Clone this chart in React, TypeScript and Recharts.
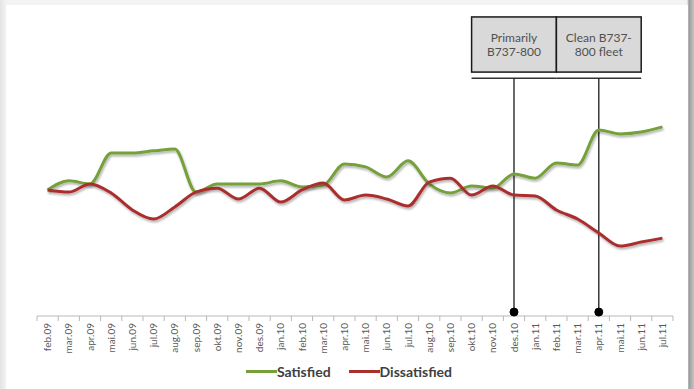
import React from 'react';
import {
  LineChart,
  Line,
  XAxis,
  YAxis,
  Legend,
  ReferenceArea,
  ReferenceLine,
  ReferenceDot,
} from 'recharts';

const months = [
  'feb.09', 'mar.09', 'apr.09', 'mai.09', 'jun.09', 'jul.09', 'aug.09', 'sep.09', 'okt.09', 'nov.09',
  'des.09', 'jan.10', 'feb.10', 'mar.10', 'apr.10', 'mai.10', 'jun.10', 'jul.10', 'aug.10', 'sep.10',
  'okt.10', 'nov.10', 'des.10', 'jan.11', 'feb.11', 'mar.11', 'apr.11', 'mai.11', 'jun.11', 'jul.11',
];

const satisfied = [
  41.6, 44.6, 43.6, 53.8, 53.8, 54.5, 55.1, 40.9, 43.6, 43.6,
  43.6, 44.6, 42.6, 43.2, 50.2, 49.2, 45.9, 51.2, 43.6, 40.6,
  42.9, 42.2, 46.9, 45.5, 50.5, 49.8, 61.4, 60.1, 60.7, 62.4,
];

const dissatisfied = [
  41.6, 40.9, 43.6, 40.6, 35.0, 32.0, 36.0, 40.9, 42.2, 38.6,
  42.2, 37.6, 41.6, 43.9, 38.3, 39.9, 38.6, 36.3, 44.2, 45.5,
  39.9, 42.9, 39.9, 39.6, 35.0, 32.0, 27.4, 23.1, 24.4, 25.7,
];

// fleet milestones: [box start, box end, marker month, caption lines]
const milestones: [string, string, string, string[]][] = [
  ['okt.10', 'feb.11', 'des.10', ['Primarily', 'B737-800']],
  ['feb.11', 'jun.11', 'apr.11', ['Clean B737-', '800 fleet']],
];

const GREEN = '#76a03a';
const RED = '#aa2f2f';

const W = 694;
const H = 389;
const margin = { top: 13, right: 21, left: 37, bottom: 8 };
const band = (W - margin.left - margin.right) / months.length;

const data = months.map((m, i) => ({
  month: m,
  satisfied: satisfied[i],
  dissatisfied: dissatisfied[i],
}));

// Excel-style ticks sit between the categories
const MonthTick = (props: any) => {
  const { x, y, payload, index } = props;
  return (
    <g>
      <line x1={x - band / 2} y1={y} x2={x - band / 2} y2={y + 5} stroke="#b8b8b8" />
      {index === months.length - 1 && (
        <line x1={x + band / 2} y1={y} x2={x + band / 2} y2={y + 5} stroke="#b8b8b8" />
      )}
      <text
        x={x}
        y={y + 7}
        dy="0.35em"
        transform={`rotate(-90 ${x} ${y + 7})`}
        textAnchor="end"
        fontSize={10}
        fontFamily="Lato"
        fill="#595959"
      >
        {payload.value}
      </text>
    </g>
  );
};

// area spans whole bands; pull the box in to the category centres
const CenteredBox = (props: any) => {
  const { x, y, width, height } = props;
  return (
    <rect
      x={x + band / 2}
      y={y}
      width={width - band}
      height={height}
      fill="#d9d9d9"
      stroke="#1a1a1a"
      strokeWidth={1.5}
    />
  );
};

const boxCaption = (lines: string[]) => (props: any) => {
  const { x, y, width, height } = props.viewBox;
  const cx = x + width / 2;
  const cy = y + height / 2;
  return (
    <text textAnchor="middle" fontSize={12} fontFamily="Lato" fill="#505050">
      {lines.map((l, i) => (
        <tspan key={i} x={cx} y={cy + (i - (lines.length - 1) / 2) * 14} dy="0.35em">
          {l}
        </tspan>
      ))}
    </text>
  );
};

const legendItems = [
  { name: 'Satisfied', color: GREEN },
  { name: 'Dissatisfied', color: RED },
];

const renderLegend = () => (
  <div
    style={{
      display: 'flex',
      justifyContent: 'center',
      alignItems: 'center',
      height: 20,
      paddingRight: 12,
      fontFamily: 'Lato',
      fontWeight: 700,
      fontSize: 14,
      color: '#404040',
    }}
  >
    {legendItems.map((it, i) => (
      <div key={it.name} style={{ display: 'flex', alignItems: 'center', marginLeft: i ? 18 : 0 }}>
        <span style={{ display: 'inline-block', width: 31, height: 3, background: it.color }} />
        <span>{it.name}</span>
      </div>
    ))}
  </div>
);

export default function App() {
  return (
    <div
      style={{
        position: 'absolute',
        left: 0,
        top: 0,
        width: W,
        height: H,
        background:
          'linear-gradient(to right, #e4e4e4 0px, #f3f3f3 6px, #f3f3f3 687px, #9c9c9c 689px, #c4c4c4 694px)',
      }}
    >
      <div
        style={{
          position: 'absolute',
          left: 6,
          top: 5,
          width: 682,
          height: H - 5,
          background: '#fff',
        }}
      />
      <div style={{ position: 'absolute', left: 0, top: 0 }}>
        <LineChart width={W} height={H} data={data} margin={margin}>
          <defs>
            <filter id="lineShadow" x="-5%" y="-20%" width="110%" height="140%">
              <feDropShadow dx="1" dy="2" stdDeviation="1.2" floodColor="#000" floodOpacity="0.3" />
            </filter>
          </defs>
          <XAxis
            dataKey="month"
            scale="band"
            interval={0}
            tickLine={false}
            tickSize={0}
            tickMargin={0}
            height={45}
            axisLine={{ stroke: '#b8b8b8' }}
            tick={<MonthTick />}
          />
          <YAxis hide domain={[0, 100]} />
          {milestones.map(([from, to, at, caption]) => (
            <React.Fragment key={at}>
              <ReferenceArea
                x1={from}
                x2={to}
                y1={80.5}
                y2={98.7}
                shape={<CenteredBox />}
                label={boxCaption(caption)}
              />
              <ReferenceLine
                segment={[{ x: from, y: 78.5 }, { x: to, y: 78.5 }]}
                stroke="#333"
                strokeWidth={1.5}
              />
              <ReferenceLine
                segment={[{ x: at, y: 78.5 }, { x: at, y: 0 }]}
                stroke="#1a1a1a"
                strokeWidth={1.3}
              />
              <ReferenceDot x={at} y={1.3} r={4} fill="#000" stroke="#000" />
            </React.Fragment>
          ))}
          <Line
            type="monotone"
            dataKey="satisfied"
            name="Satisfied"
            stroke={GREEN}
            strokeWidth={3}
            dot={false}
            filter="url(#lineShadow)"
            isAnimationActive={false}
          />
          <Line
            type="monotone"
            dataKey="dissatisfied"
            name="Dissatisfied"
            stroke={RED}
            strokeWidth={3}
            dot={false}
            filter="url(#lineShadow)"
            isAnimationActive={false}
          />
          <Legend verticalAlign="bottom" content={renderLegend} wrapperStyle={{ height: 20 }} />
        </LineChart>
      </div>
    </div>
  );
}
